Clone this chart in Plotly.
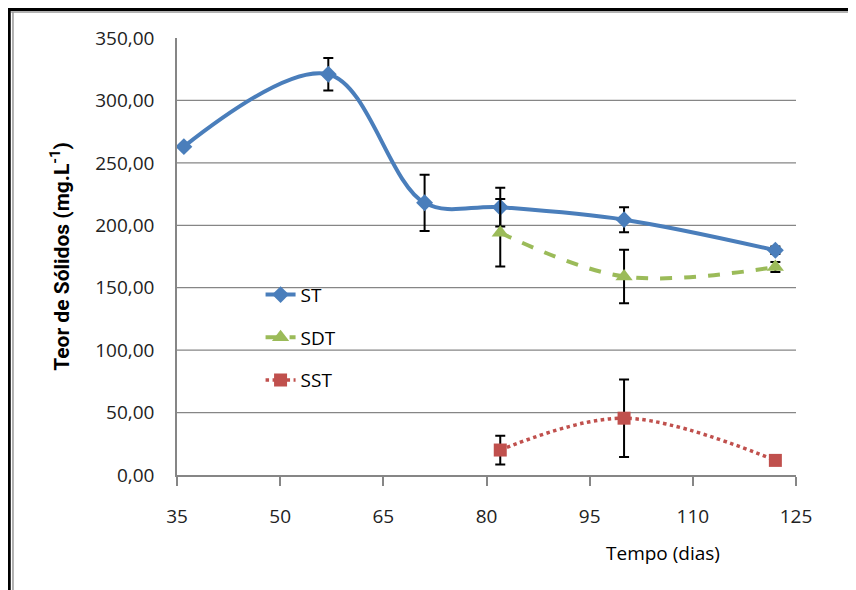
import plotly.graph_objects as go

# ---- data ----
st_x = [36, 57, 71, 82, 100, 122]
st_y = [263, 321, 218, 214.5, 204.5, 180]
st_err = [0, 13, 22.5, 15.5, 10, 3]

sdt_x = [82, 100, 122]
sdt_y = [194, 159, 166.5]
sdt_err = [27, 21.5, 4]

sst_x = [82, 100, 122]
sst_y = [20, 45.5, 11.7]
sst_err = [11.5, 31, 0]

x_ticks = [35, 50, 65, 80, 95, 110, 125]
y_ticks = [0, 50, 100, 150, 200, 250, 300, 350]
y_ticktext = ["0,00", "50,00", "100,00", "150,00", "200,00", "250,00", "300,00", "350,00"]

FONT = "Open Sans"
BLUE = "#4A7EBB"
GREEN = "#9BBB59"
RED = "#C0504D"
GRID = "#868686"

fig = go.Figure()

err_style = dict(type="data", visible=True, color="black", thickness=2, width=5)

fig.add_trace(go.Scatter(
    x=st_x, y=st_y, name="ST", mode="lines+markers",
    line=dict(color=BLUE, width=4, shape="spline", smoothing=1.0),
    marker=dict(symbol="diamond", size=13, color=BLUE),
    error_y=dict(array=st_err, **err_style),
    legendgroup="a",
))
fig.add_trace(go.Scatter(
    x=sdt_x, y=sdt_y, name="SDT", mode="lines+markers",
    line=dict(color=GREEN, width=4, dash="dash", shape="spline", smoothing=1.0),
    marker=dict(symbol="triangle-up", size=15, color=GREEN),
    error_y=dict(array=sdt_err, **err_style),
    legendgroup="b",
))
fig.add_trace(go.Scatter(
    x=sst_x, y=sst_y, name="SST", mode="lines+markers",
    line=dict(color=RED, width=3.5, dash="dot", shape="spline", smoothing=1.0),
    marker=dict(symbol="square", size=13, color=RED),
    error_y=dict(array=sst_err, **err_style),
    legendgroup="c",
))

# gridlines (no line at top edge)
for v in y_ticks[1:-1]:
    fig.add_shape(type="line", xref="paper", yref="y", x0=0, x1=1, y0=v, y1=v,
                  line=dict(color=GRID, width=1.3), layer="below")

# frame lines on top and left
fig.add_shape(type="line", xref="paper", yref="paper", x0=-0.2714, x1=-0.2714, y0=1.0658, y1=-0.35,
              line=dict(color="black", width=3.5))
fig.add_shape(type="line", xref="paper", yref="paper", x0=-0.2650, x1=-0.2650, y0=1.0594, y1=-0.35,
              line=dict(color="#999999", width=1.5))
fig.add_shape(type="line", xref="paper", yref="paper", x0=-0.2742, x1=1.2, y0=1.0658, y1=1.0658,
              line=dict(color="black", width=3.5))
fig.add_shape(type="line", xref="paper", yref="paper", x0=-0.2680, x1=1.2, y0=1.0594, y1=1.0594,
              line=dict(color="#999999", width=1.5))

fig.add_annotation(text="Tempo (dias)", xref="paper", yref="paper", x=0.785, y=-0.178,
                   xanchor="center", yanchor="middle",
                   showarrow=False, font=dict(family=FONT, size=19, color="black"))

fig.update_layout(
    width=848, height=582,
    margin=dict(l=169, r=60, t=29.5, b=115),
    paper_bgcolor="white", plot_bgcolor="white",
    font=dict(family=FONT, size=19, color="#222222"),
    showlegend=True,
    legend=dict(x=0.135, y=0.456, xanchor="left", yanchor="top",
                bgcolor="rgba(0,0,0,0)", font=dict(family=FONT, size=19, color="black"),
                tracegroupgap=15, itemwidth=30),
    xaxis=dict(range=[35, 125], tickvals=x_ticks, showgrid=False, zeroline=False,
               showline=True, linecolor=GRID, linewidth=1.5,
               ticks="outside", ticklen=9, tickcolor=GRID, tickwidth=1.5,
               ticklabelstandoff=14, tickfont=dict(family=FONT, size=19, color="#222222")),
    yaxis=dict(range=[0, 350], tickvals=y_ticks, ticktext=y_ticktext, showgrid=False, zeroline=False,
               showline=True, linecolor=GRID, linewidth=1.5, ticks="",
               ticklabelstandoff=17, tickfont=dict(family=FONT, size=19, color="#222222"),
               title=dict(text="<b>Teor de Sólidos (mg.L<sup>-1</sup>)</b>",
                          font=dict(family="Roboto", size=21, color="black"), standoff=20)),
)

fig.write_html("out.html")
